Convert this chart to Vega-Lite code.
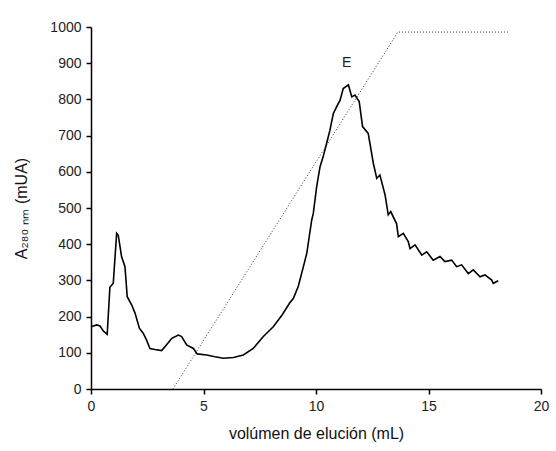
{
  "$schema": "https://vega.github.io/schema/vega-lite/v6.json",
  "autosize": "none",
  "width": 450,
  "height": 362,
  "padding": {"left": 91, "top": 27, "right": 15, "bottom": 62},
  "background": "white",
  "config": {
    "view": {"stroke": null},
    "font": "Liberation Sans",
    "axis": {
      "grid": false,
      "domainColor": "black",
      "domainWidth": 1.5,
      "tickColor": "black",
      "tickWidth": 1.5,
      "tickSize": 5,
      "labelFont": "Liberation Sans",
      "labelFontSize": 14,
      "labelColor": "#222",
      "labelFlush": false,
      "titleFont": "Liberation Sans",
      "titleFontSize": 16,
      "titleFontWeight": "normal",
      "titleColor": "#111"
    }
  },
  "datasets": {
    "curve": [
      {"v": 0.0, "a": 172}, {"v": 0.25, "a": 177}, {"v": 0.4, "a": 174}, {"v": 0.55, "a": 160},
      {"v": 0.72, "a": 151}, {"v": 0.84, "a": 281}, {"v": 0.99, "a": 292}, {"v": 1.14, "a": 430},
      {"v": 1.21, "a": 425}, {"v": 1.36, "a": 365}, {"v": 1.51, "a": 338}, {"v": 1.61, "a": 255},
      {"v": 1.81, "a": 232}, {"v": 1.96, "a": 209}, {"v": 2.15, "a": 168}, {"v": 2.32, "a": 154},
      {"v": 2.47, "a": 135}, {"v": 2.62, "a": 112}, {"v": 2.84, "a": 109}, {"v": 3.14, "a": 106},
      {"v": 3.36, "a": 122}, {"v": 3.59, "a": 140}, {"v": 3.88, "a": 149}, {"v": 4.03, "a": 145},
      {"v": 4.25, "a": 122}, {"v": 4.55, "a": 112}, {"v": 4.72, "a": 97}, {"v": 5.14, "a": 94},
      {"v": 5.51, "a": 89}, {"v": 5.88, "a": 85}, {"v": 6.33, "a": 87}, {"v": 6.77, "a": 94},
      {"v": 7.21, "a": 112}, {"v": 7.66, "a": 145}, {"v": 8.1, "a": 172}, {"v": 8.5, "a": 205},
      {"v": 8.82, "a": 237}, {"v": 8.99, "a": 250}, {"v": 9.21, "a": 283}, {"v": 9.44, "a": 338},
      {"v": 9.59, "a": 375}, {"v": 9.81, "a": 467}, {"v": 9.88, "a": 485}, {"v": 10.03, "a": 559},
      {"v": 10.18, "a": 614}, {"v": 10.32, "a": 642}, {"v": 10.47, "a": 678}, {"v": 10.62, "a": 715},
      {"v": 10.77, "a": 761}, {"v": 10.92, "a": 780}, {"v": 11.07, "a": 798}, {"v": 11.21, "a": 830},
      {"v": 11.44, "a": 840}, {"v": 11.59, "a": 807}, {"v": 11.73, "a": 812}, {"v": 11.92, "a": 794},
      {"v": 12.07, "a": 725}, {"v": 12.32, "a": 706}, {"v": 12.55, "a": 623}, {"v": 12.7, "a": 582},
      {"v": 12.84, "a": 591}, {"v": 13.07, "a": 536}, {"v": 13.21, "a": 481}, {"v": 13.32, "a": 490},
      {"v": 13.58, "a": 457}, {"v": 13.66, "a": 421}, {"v": 13.88, "a": 430}, {"v": 14.1, "a": 407},
      {"v": 14.18, "a": 388}, {"v": 14.4, "a": 398}, {"v": 14.7, "a": 370}, {"v": 14.92, "a": 379},
      {"v": 15.21, "a": 356}, {"v": 15.51, "a": 366}, {"v": 15.73, "a": 352}, {"v": 16.03, "a": 356},
      {"v": 16.25, "a": 338}, {"v": 16.47, "a": 343}, {"v": 16.77, "a": 319}, {"v": 16.99, "a": 329},
      {"v": 17.29, "a": 310}, {"v": 17.51, "a": 315}, {"v": 17.81, "a": 301}, {"v": 17.88, "a": 292},
      {"v": 18.1, "a": 299}
    ],
    "gradient": [
      {"v": 3.64, "a": 0}, {"v": 13.64, "a": 986}, {"v": 18.53, "a": 986}
    ],
    "labels": [
      {"v": 11.36, "a": 900, "t": "E"}
    ]
  },
  "encoding": {
    "x": {"field": "v", "type": "quantitative", "scale": {"domain": [0, 20], "nice": false, "zero": false},
      "axis": {"values": [0, 5, 10, 15, 20], "format": "d", "labelOverlap": false, "title": "volúmen de elución (mL)", "labelPadding": 5, "titlePadding": 12}},
    "y": {"field": "a", "type": "quantitative", "scale": {"domain": [0, 1000], "nice": false, "zero": false},
      "axis": {"values": [0, 100, 200, 300, 400, 500, 600, 700, 800, 900, 1000], "tickCount": 11, "format": "d", "labelOverlap": false, "title": "A₂₈₀ ₙₘ (mUA)", "labelPadding": 5, "titlePadding": 20}}
  },
  "layer": [
    {
      "data": {"name": "gradient"},
      "mark": {"type": "line", "color": "#333", "strokeWidth": 1, "strokeDash": [1, 2], "clip": true}
    },
    {
      "data": {"name": "curve"},
      "mark": {"type": "line", "color": "black", "strokeWidth": 1.6}
    },
    {
      "data": {"name": "labels"},
      "mark": {"type": "text", "fontSize": 14, "color": "#222", "font": "Liberation Sans"},
      "encoding": {"text": {"field": "t"}}
    }
  ]
}
